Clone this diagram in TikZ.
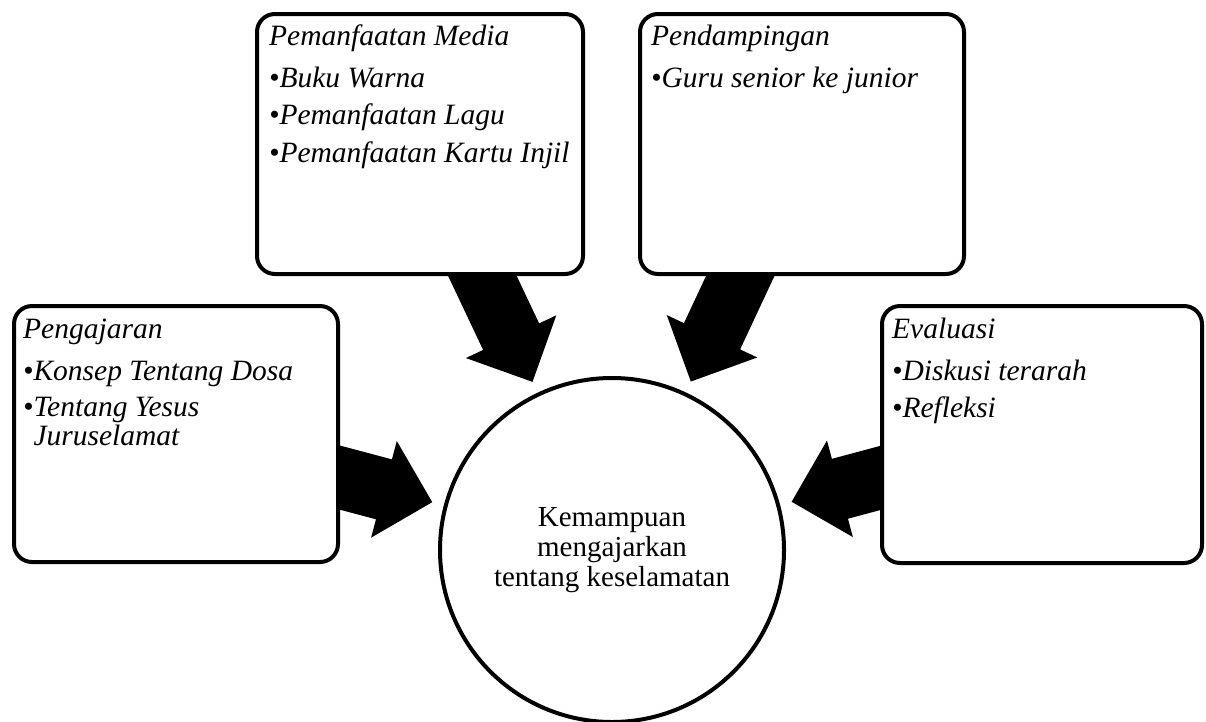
\documentclass[tikz,border=0pt]{standalone}
\usepackage{fontspec}
\setmainfont{Liberation Serif}
\usetikzlibrary{calc}
\pgfdeclarelayer{back}
\pgfsetlayers{back,main}
\newcommand\blockarr[2]{%
  \coordinate (#1tip) at ($(#2.center)!186pt!(#1.center)$);
  \coordinate (#1neck) at ($(#2.center)!236pt!(#1.center)$);
  \fill[arrowfill] (#1tip)
    -- ($(#1neck)!50pt!90:(#1.center)$)
    -- ($(#1neck)!31pt!90:(#1.center)$)
    -- ($(#1.center)!31pt!-90:(#2.center)$)
    -- ($(#1.center)!31pt!90:(#2.center)$)
    -- ($(#1neck)!31pt!-90:(#1.center)$)
    -- ($(#1neck)!50pt!-90:(#1.center)$)
    -- cycle;}
\newcommand\boxlines[1]{\parbox[t]{310pt}{\raggedright #1}}
\begin{document}
\begin{tikzpicture}[x=1pt, y=-1pt,
  box/.style={draw=black, line width=4pt, rounded corners=18pt, fill=white, inner sep=0pt},
  boxtext/.style={anchor=base west, inner sep=0pt, font=\fontsize{29.5}{29}\selectfont\itshape},
  hub/.style={draw=black, line width=4pt, fill=white, circle, minimum size=344pt, inner sep=0pt, align=center, font=\fontsize{29}{30}\selectfont},
  arrowfill/.style={fill=black}]
\useasboundingbox (0,0) rectangle (1206,721);

\node[box, minimum width=324pt, minimum height=256pt] (peng) at (176,434) {};
\node[box, minimum width=326pt, minimum height=260pt] (media) at (420,144) {};
\node[box, minimum width=324pt, minimum height=260pt] (pend) at (802,144) {};
\node[box, minimum width=320pt, minimum height=257pt] (eval) at (1042,434.5) {};
\node[hub] (c) at (612,550) {Kemampuan\\mengajarkan\\tentang keselamatan};

\node[boxtext] (pengt) at ($(peng.north west)+(11,34)$)
  {\boxlines{Pengajaran\\[13pt]•Konsep Tentang Dosa\\[7pt]•Tentang Yesus\\\hphantom{•}Juruselamat}};
\node[boxtext] (mediat) at ($(media.north west)+(14,33)$)
  {\boxlines{Pemanfaatan Media\\[13pt]•Buku Warna\\[8.5pt]•Pemanfaatan Lagu\\[8.5pt]•Pemanfaatan Kartu Injil}};
\node[boxtext] (pendt) at ($(pend.north west)+(13,33)$)
  {\boxlines{Pendampingan\\[13pt]•Guru senior ke junior}};
\node[boxtext] (evalt) at ($(eval.north west)+(12,34)$)
  {\boxlines{Evaluasi\\[13pt]•Diskusi terarah\\[8pt]•Refleksi}};

\begin{pgfonlayer}{back}
\blockarr{peng}{c}
\blockarr{media}{c}
\blockarr{pend}{c}
\blockarr{eval}{c}
\end{pgfonlayer}
\end{tikzpicture}
\end{document}
